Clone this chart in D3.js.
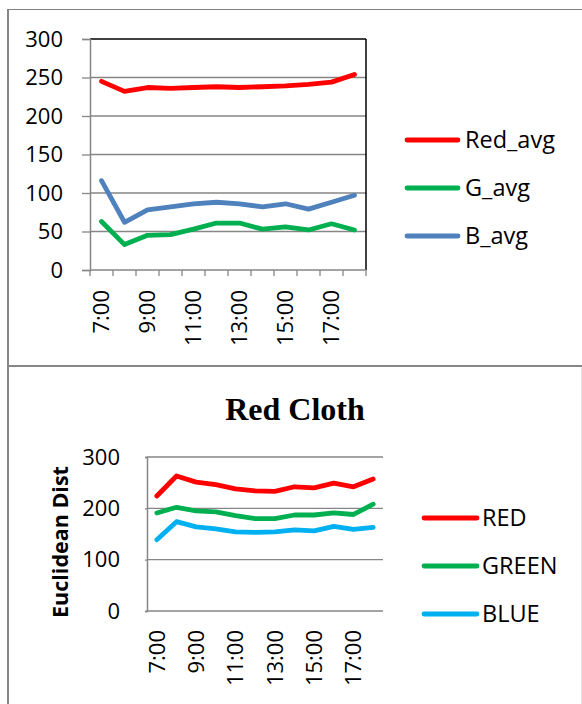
<!DOCTYPE html>
<html>
<head>
<meta charset="utf-8">
<script src="https://cdn.jsdelivr.net/npm/d3@7"></script>
<style>
  body { margin: 0; background: #fff; }
  svg text { font-family: "Open Sans", sans-serif; fill: #000; }
</style>
</head>
<body>
<div id="viz"><svg width="582" height="704"></svg></div>
<script>
// categories
const hours = ["7:00","8:00","9:00","10:00","11:00","12:00","13:00","14:00","15:00","16:00","17:00","18:00"]

// top chart: channel averages
const redAvg = [245, 232, 237, 236, 237, 238, 237, 238, 239, 241, 244, 254]
const gAvg   = [63, 33, 45, 46, 53, 61, 61, 53, 56, 52, 60, 52]
const bAvg   = [116, 62, 78, 82, 86, 88, 86, 82, 86, 79, 88, 97]
const topTicks = [0, 50, 100, 150, 200, 250, 300]

// bottom chart: Red Cloth euclidean distance
const redDist   = [224, 263, 251, 246, 238, 234, 233, 242, 240, 249, 242, 257]
const greenDist = [191, 202, 195, 193, 186, 180, 180, 187, 187, 191, 188, 208]
const blueDist  = [139, 174, 164, 160, 154, 153, 154, 158, 156, 165, 159, 163]
const bottomTicks = [0, 100, 200, 300]

const topSeries = [
    {name: "Red_avg", values: redAvg, color: "#ff0000"},
    {name: "G_avg", values: gAvg, color: "#00b050"},
    {name: "B_avg", values: bAvg, color: "#4f81bd"}
]
const bottomSeries = [
    {name: "RED", values: redDist, color: "#ff0000"},
    {name: "GREEN", values: greenDist, color: "#00b050"},
    {name: "BLUE", values: blueDist, color: "#00b0f0"}
]

const svg = d3.select("#viz").select("svg")
const grey = "#868686"

// panel frames
svg.append("line").attr("x1", 8).attr("x2", 8).attr("y1", 9).attr("y2", 704)
    .attr("stroke", grey).attr("stroke-width", 2)
svg.append("line").attr("x1", 7).attr("x2", 582).attr("y1", 9.5).attr("y2", 9.5)
    .attr("stroke", "#7f7f7f").attr("stroke-width", 1)
svg.append("line").attr("x1", 7).attr("x2", 582).attr("y1", 366).attr("y2", 366)
    .attr("stroke", grey).attr("stroke-width", 2)
svg.append("line").attr("x1", 581.5).attr("x2", 581.5).attr("y1", 367).attr("y2", 704)
    .attr("stroke", "#e4e4e4").attr("stroke-width", 1)

function drawChart(opts){
    const g = svg.append("g")
    const x = d3.scaleBand().domain(hours).range([opts.left, opts.right]).padding(0)
    const y = d3.scaleLinear().domain([0, 300]).range([opts.bottom, opts.top])
    const cx = d => x(d) + x.bandwidth() / 2

    // gridlines
    g.selectAll("line.grid")
        .data(opts.ticks.filter(t => t > 0))
        .enter()
        .append("line")
        .attr("class", "grid")
        .attr("x1", opts.left).attr("x2", opts.right)
        .attr("y1", d => y(d)).attr("y2", d => y(d))
        .attr("stroke", d => (d == 300 && opts.blackFrame) ? "#000" : grey)
        .attr("stroke-width", d => (d == 300 && opts.blackFrame) ? 1.5 : 1.3)

    if (opts.blackFrame){
        g.append("line")
            .attr("x1", opts.right).attr("x2", opts.right)
            .attr("y1", opts.top).attr("y2", opts.bottom)
            .attr("stroke", "#000").attr("stroke-width", 1.5)
    }

    // y axis
    const yAxis = g.append("g")
        .attr("transform", "translate(" + opts.left + ",0)")
        .call(d3.axisLeft(y).tickValues(opts.ticks).tickSize(opts.yTick).tickPadding(opts.yPad).tickFormat(d3.format("d")))
    yAxis.select(".domain").attr("stroke", grey).attr("stroke-width", 1.5)
    yAxis.selectAll(".tick line").attr("stroke", grey).attr("stroke-width", 1.3)
    yAxis.selectAll(".tick text").style("font-size", "22px").style("font-family", "Open Sans")

    // x axis line
    g.append("line")
        .attr("x1", opts.left).attr("x2", opts.right)
        .attr("y1", opts.bottom).attr("y2", opts.bottom)
        .attr("stroke", grey).attr("stroke-width", 1.5)

    // x tick marks between categories
    if (opts.xTick > 0){
        g.selectAll("line.xtick")
            .data(hours.map(d => x(d)).concat([opts.right]))
            .enter()
            .append("line")
            .attr("class", "xtick")
            .attr("x1", d => d).attr("x2", d => d)
            .attr("y1", opts.bottom).attr("y2", opts.bottom + opts.xTick)
            .attr("stroke", grey).attr("stroke-width", 1.3)
    }

    // x labels, every other hour
    g.selectAll("text.xlab")
        .data(hours.filter((d, i) => i % 2 == 0))
        .enter()
        .append("text")
        .attr("class", "xlab")
        .attr("transform", d => "translate(" + cx(d) + "," + (opts.bottom + opts.labelGap) + ") rotate(-90)")
        .attr("text-anchor", "end")
        .attr("dy", "0.35em")
        .style("font-size", "22px")
        .text(d => d)

    // lines
    const line = d3.line()
        .x((v, i) => cx(hours[i]))
        .y(v => y(v))

    g.selectAll("path.series")
        .data(opts.series)
        .enter()
        .append("path")
        .attr("class", "series")
        .attr("d", d => line(d.values))
        .attr("fill", "none")
        .attr("stroke", d => d.color)
        .attr("stroke-width", 4.8)
        .attr("stroke-linejoin", "round")
        .attr("stroke-linecap", "round")

    // legend
    const leg = g.selectAll("g.legend")
        .data(opts.series)
        .enter()
        .append("g")
        .attr("class", "legend")
        .attr("transform", (d, i) => "translate(0," + opts.legendY[i] + ")")
    leg.append("line")
        .attr("x1", opts.legendX[0]).attr("x2", opts.legendX[1])
        .attr("stroke", d => d.color)
        .attr("stroke-width", 4.8)
        .attr("stroke-linecap", "round")
    leg.append("text")
        .attr("x", opts.legendX[2])
        .attr("dy", "0.35em")
        .style("font-size", "23.5px")
        .text(d => d.name)
}

drawChart({
    left: 90, right: 366, top: 39, bottom: 270,
    ticks: topTicks, series: topSeries, blackFrame: true,
    yTick: 8, yPad: 19, xTick: 6, labelGap: 20,
    legendX: [407, 458, 465], legendY: [140, 188, 236]
})

drawChart({
    left: 147, right: 383, top: 457, bottom: 611,
    ticks: bottomTicks, series: bottomSeries, blackFrame: false,
    yTick: 2, yPad: 25, xTick: 0, labelGap: 19,
    legendX: [424, 477, 482], legendY: [518, 566, 614]
})

// bottom chart title and y title
svg.append("text")
    .attr("x", 295).attr("y", 420)
    .attr("text-anchor", "middle")
    .style("font-family", "Liberation Serif")
    .style("font-weight", "bold")
    .style("font-size", "32px")
    .text("Red Cloth")

svg.append("text")
    .attr("transform", "translate(60,542) rotate(-90)")
    .attr("text-anchor", "middle")
    .attr("dy", "0.35em")
    .style("font-weight", "bold")
    .style("font-size", "21.5px")
    .text("Euclidean Dist")
</script>
</body>
</html>
